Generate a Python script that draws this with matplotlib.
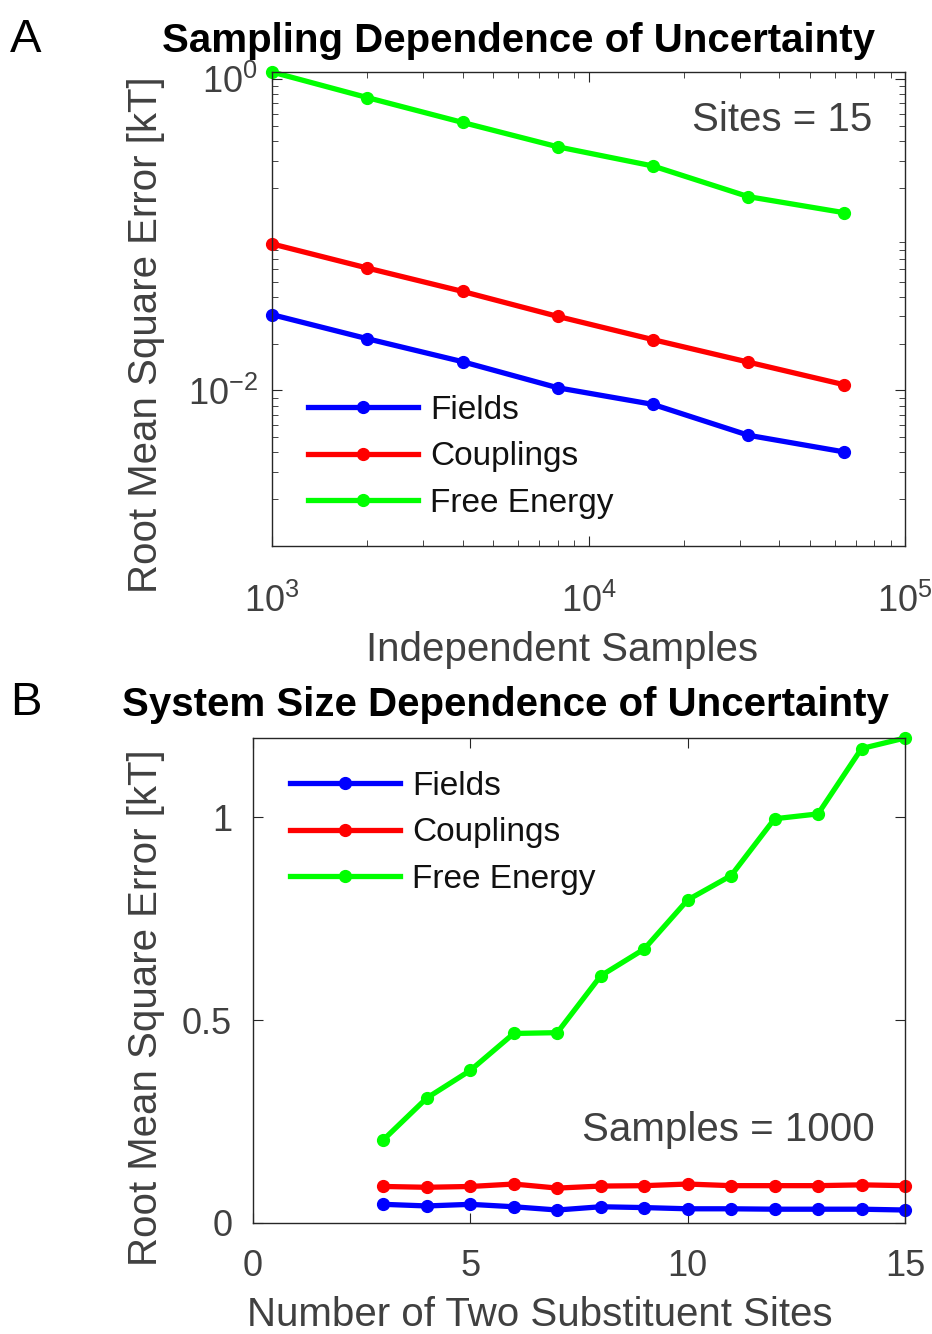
import matplotlib
matplotlib.use("Agg")
import matplotlib.pyplot as plt
from matplotlib.ticker import LogLocator, FixedLocator, NullFormatter

FONT = ['Liberation Sans', 'DejaVu Sans']
plt.rcParams['font.family'] = FONT
plt.rcParams['mathtext.fontset'] = 'custom'
plt.rcParams['mathtext.rm'] = 'Liberation Sans'
plt.rcParams['mathtext.it'] = 'Liberation Sans:italic'
plt.rcParams['mathtext.bf'] = 'Liberation Sans:bold'

# ---- Panel A data ----
samples = [1000, 2000, 4000, 8000, 16000, 32000, 64000]
fields_a = [0.0307, 0.0215, 0.0153, 0.0104, 0.00813, 0.00515, 0.00403]
couplings_a = [0.0875, 0.0612, 0.0433, 0.0299, 0.0212, 0.0152, 0.0109]
free_a = [1.114, 0.763, 0.528, 0.368, 0.277, 0.176, 0.139]

# ---- Panel B data ----
sites = [3, 4, 5, 6, 7, 8, 9, 10, 11, 12, 13, 14, 15]
fields_b = [0.046, 0.042, 0.046, 0.040, 0.032, 0.040, 0.038, 0.035, 0.035, 0.034, 0.034, 0.034, 0.032]
couplings_b = [0.090, 0.088, 0.090, 0.096, 0.086, 0.091, 0.092, 0.096, 0.092, 0.092, 0.092, 0.094, 0.092]
free_b = [0.205, 0.308, 0.376, 0.467, 0.469, 0.609, 0.675, 0.796, 0.856, 0.996, 1.008, 1.169, 1.195]

labels = ['Fields', 'Couplings', 'Free Energy']
colors = ['#0000ff', '#ff0000', '#00ff00']

W, H = 932, 1334
fig = plt.figure(figsize=(W / 100, H / 100), dpi=100)

def ax_rect(l, t, r, b):
    return [l / W, 1 - b / H, (r - l) / W, (b - t) / H]

def fx(x):
    return x / W

def fy(y):
    return 1 - y / H

gray = '#262626'
label_gray = '#404040'
TICK = 26
LAB = 29
LEG = 24

def style(ax, xpad, ypad):
    for s in ax.spines.values():
        s.set_color(gray)
        s.set_linewidth(1.0)
    ax.tick_params(which='both', direction='in', top=True, right=True,
                   colors=gray, labelcolor=label_gray, labelsize=TICK)
    ax.tick_params(which='major', length=7)
    ax.tick_params(which='minor', length=4)
    ax.tick_params(axis='x', which='major', pad=xpad)
    ax.tick_params(axis='y', which='major', pad=ypad)

lw = 3.8
ms = 8.5

# Panel A
axA = fig.add_axes(ax_rect(272, 72, 905, 546))
for y, c, lab in zip([fields_a, couplings_a, free_a], colors, labels):
    axA.plot(samples, y, '-o', color=c, lw=lw, ms=ms, label=lab, clip_on=False)
axA.set_xscale('log')
axA.set_yscale('log')
axA.set_xlim(1e3, 1e5)
axA.set_ylim(1e-3, max(free_a))
axA.yaxis.set_major_locator(FixedLocator([1e-2, 1e0]))
axA.xaxis.set_major_locator(LogLocator(base=10, numticks=10))
axA.xaxis.set_minor_locator(LogLocator(base=10, subs=range(2, 10), numticks=20))
axA.yaxis.set_minor_locator(LogLocator(base=10, subs=range(2, 10), numticks=20))
axA.yaxis.set_minor_formatter(NullFormatter())
axA.xaxis.set_minor_formatter(NullFormatter())
style(axA, 27, 10)
fig.text(fx(562), fy(650), 'Independent Samples', fontsize=LAB, color=label_gray,
         ha='center', va='center')
fig.text(fx(146), fy(335), 'Root Mean Square Error [kT]', fontsize=LAB, color=label_gray,
         ha='center', va='center', rotation=90)
fig.text(fx(519), fy(41), 'Sampling Dependence of Uncertainty', fontsize=LAB,
         fontweight='bold', ha='center', va='center')
fig.text(fx(872), fy(120), 'Sites = 15', fontsize=LAB, color=label_gray,
         ha='right', va='center')
axA.legend(loc='upper left', bbox_to_anchor=(fx(308), fy(395)), bbox_transform=fig.transFigure,
           frameon=False, fontsize=LEG, borderpad=0, borderaxespad=0,
           handlelength=3.3, handletextpad=0.36, labelspacing=0.46,
           labelcolor='#111111')
fig.text(fx(26), fy(40), 'A', fontsize=34, ha='center', va='center')

# Panel B
axB = fig.add_axes(ax_rect(253, 738, 905, 1223))
for y, c, lab in zip([fields_b, couplings_b, free_b], colors, labels):
    axB.plot(sites, y, '-o', color=c, lw=lw, ms=ms, label=lab, clip_on=False)
axB.set_xlim(0, 15)
axB.set_ylim(0, max(free_b))
axB.set_xticks([0, 5, 10, 15])
axB.set_yticks([0, 0.5, 1])
axB.set_yticklabels(['0', '0.5', '1'])
style(axB, 19, 15)
fig.text(fx(540), fy(1315), 'Number of Two Substituent Sites', fontsize=LAB, color=label_gray,
         ha='center', va='center')
fig.text(fx(146), fy(1008), 'Root Mean Square Error [kT]', fontsize=LAB, color=label_gray,
         ha='center', va='center', rotation=90)
fig.text(fx(505), fy(705), 'System Size Dependence of Uncertainty', fontsize=LAB,
         fontweight='bold', ha='center', va='center')
fig.text(fx(875), fy(1130), 'Samples = 1000', fontsize=LAB, color=label_gray,
         ha='right', va='center')
axB.legend(loc='upper left', bbox_to_anchor=(fx(290), fy(771)), bbox_transform=fig.transFigure,
           frameon=False, fontsize=LEG, borderpad=0, borderaxespad=0,
           handlelength=3.3, handletextpad=0.36, labelspacing=0.46,
           labelcolor='#111111')
fig.text(fx(26), fy(703), 'B', fontsize=34, ha='center', va='center')

fig.savefig('out.png', dpi=100)
